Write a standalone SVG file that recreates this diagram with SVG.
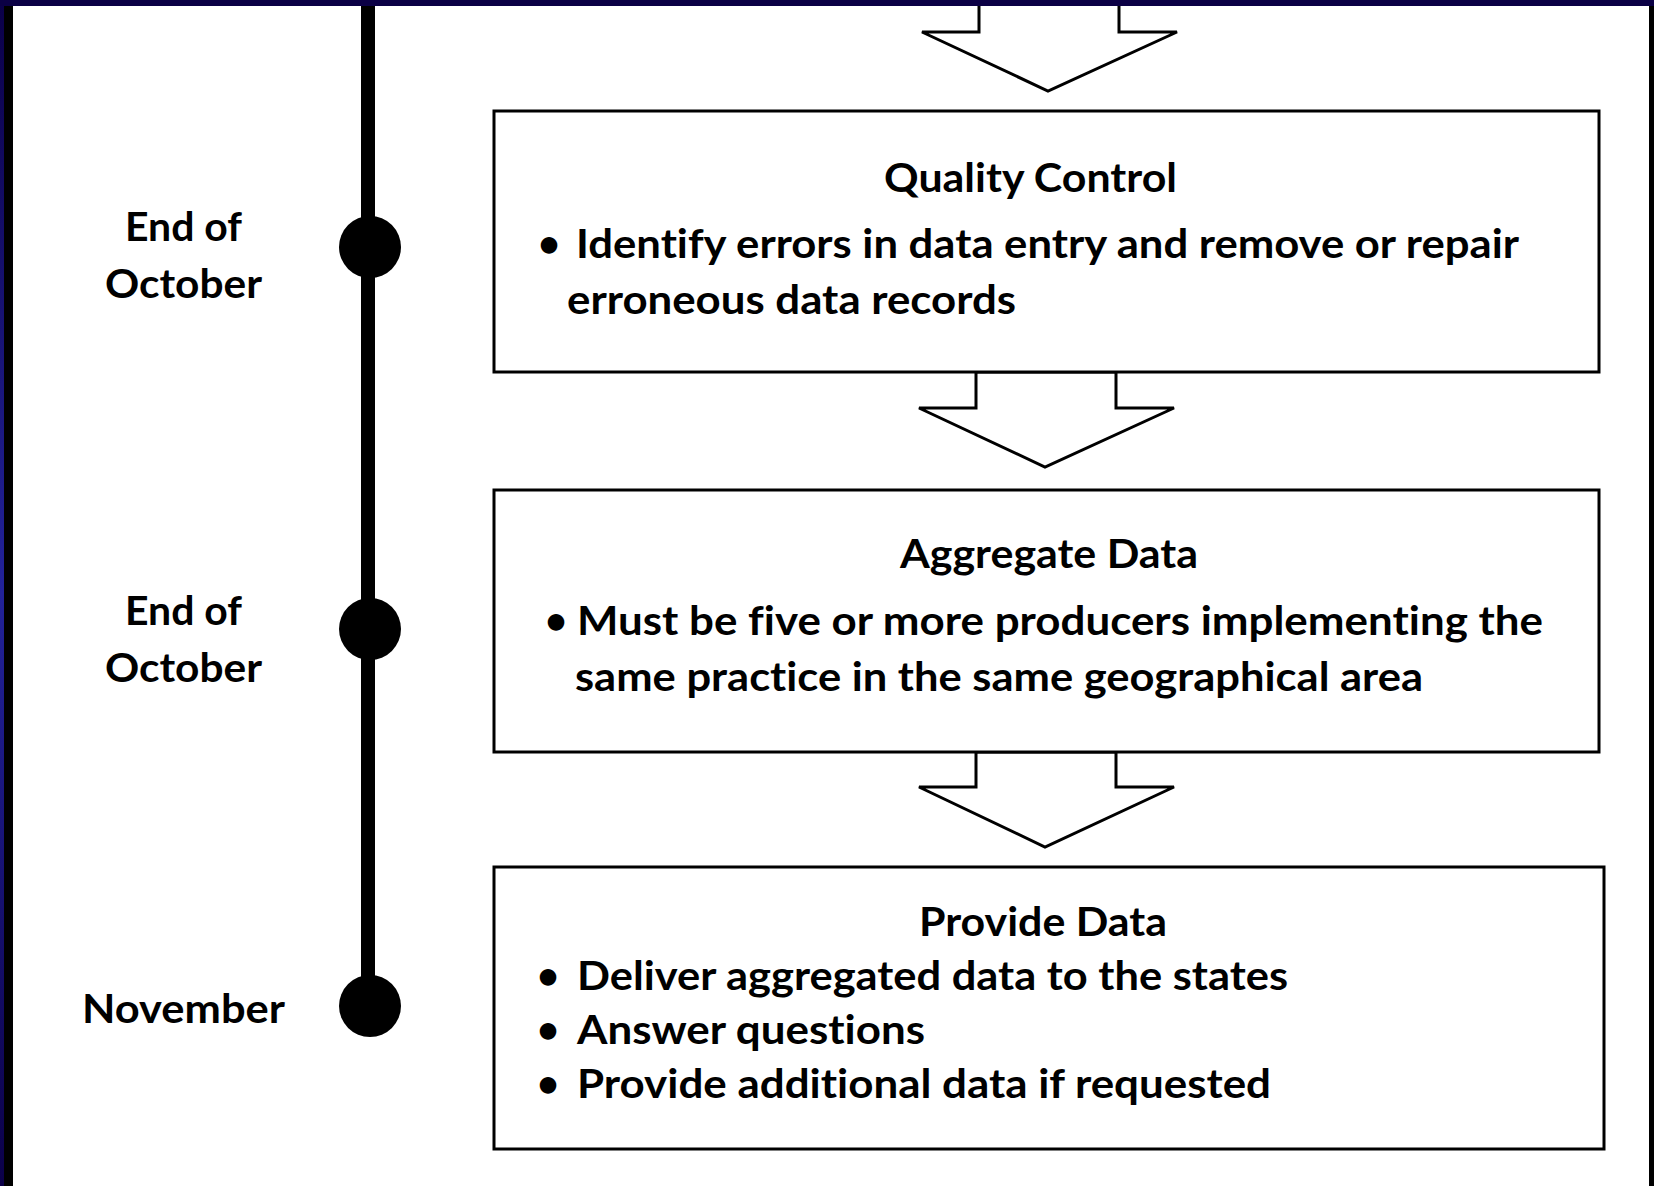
<svg xmlns="http://www.w3.org/2000/svg" width="1654" height="1186" viewBox="0 0 1654 1186">
<style>
  .box { fill: #ffffff; stroke: #000000; stroke-width: 3; }
  .arrow { fill: #ffffff; stroke: #000000; stroke-width: 3; stroke-linejoin: miter; }
  .t { font-family: Lato, "Liberation Sans", sans-serif; font-weight: bold; font-size: 40px; fill: #000000; font-variant-ligatures: none; }
  .lbl { font-family: Lato, "Liberation Sans", sans-serif; font-weight: bold; font-size: 40px; fill: #000000; text-anchor: middle; font-variant-ligatures: none; }
  .bul { font-family: Lato, "Liberation Sans", sans-serif; font-weight: bold; font-size: 38px; fill: #000000; text-anchor: middle; }
  .dot { fill: #000000; }
</style>
<defs>
  <linearGradient id="edge" x1="0" y1="0" x2="0" y2="1">
    <stop offset="0" stop-color="#0b0048"/>
    <stop offset="0.5" stop-color="#22229a"/>
    <stop offset="1" stop-color="#0b0048"/>
  </linearGradient>
</defs>
<rect x="0" y="0" width="1654" height="1186" fill="#ffffff"/>

<g id="connectors">
  <polygon class="arrow" points="979,-4 979,32 922,32 1048,91 1177,32 1119,32 1119,-4"/>
  <polygon class="arrow" points="976,372 976,408 919,408 1045,467 1174,408 1116,408 1116,372"/>
  <polygon class="arrow" points="976,752 976,787 919,787 1045,847 1174,787 1116,787 1116,752"/>
</g>

<g id="timeline">
  <rect x="361" y="0" width="14" height="1006" fill="#000000"/>
  <circle class="dot" cx="370" cy="247" r="31"/>
  <circle class="dot" cx="370" cy="629" r="31"/>
  <circle class="dot" cx="370" cy="1006" r="31"/>
</g>

<g id="label-oct1">
  <text class="lbl" x="183.5" y="241" textLength="117" lengthAdjust="spacingAndGlyphs">End of</text>
  <text class="lbl" x="183.5" y="298" textLength="157" lengthAdjust="spacingAndGlyphs">October</text>
</g>
<g id="label-oct2">
  <text class="lbl" x="183.5" y="625" textLength="117" lengthAdjust="spacingAndGlyphs">End of</text>
  <text class="lbl" x="183.5" y="682" textLength="157" lengthAdjust="spacingAndGlyphs">October</text>
</g>
<g id="label-nov">
  <text class="lbl" x="183.5" y="1023" textLength="203" lengthAdjust="spacingAndGlyphs">November</text>
</g>

<g id="quality-control">
  <rect class="box" x="494" y="111" width="1105" height="261"/>
  <text class="t" x="884" y="192" textLength="293" lengthAdjust="spacingAndGlyphs">Quality Control</text>
  <text class="bul" x="549" y="257">•</text>
  <text class="t" x="576" y="258" textLength="943" lengthAdjust="spacingAndGlyphs">Identify errors in data entry and remove or repair</text>
  <text class="t" x="567" y="314" textLength="449" lengthAdjust="spacingAndGlyphs">erroneous data records</text>
</g>

<g id="aggregate-data">
  <rect class="box" x="494" y="490" width="1105" height="262"/>
  <text class="t" x="900" y="568" textLength="298" lengthAdjust="spacingAndGlyphs">Aggregate Data</text>
  <text class="bul" x="556" y="634">•</text>
  <text class="t" x="577" y="635" textLength="966" lengthAdjust="spacingAndGlyphs">Must be five or more producers implementing the</text>
  <text class="t" x="575" y="691" textLength="848" lengthAdjust="spacingAndGlyphs">same practice in the same geographical area</text>
</g>

<g id="provide-data">
  <rect class="box" x="494" y="867" width="1110" height="282"/>
  <text class="t" x="919" y="936" textLength="248" lengthAdjust="spacingAndGlyphs">Provide Data</text>
  <text class="bul" x="548" y="989">•</text>
  <text class="t" x="577" y="990" textLength="711" lengthAdjust="spacingAndGlyphs">Deliver aggregated data to the states</text>
  <text class="bul" x="548" y="1043">•</text>
  <text class="t" x="577" y="1044" textLength="348" lengthAdjust="spacingAndGlyphs">Answer questions</text>
  <text class="bul" x="548" y="1097">•</text>
  <text class="t" x="577" y="1098" textLength="694" lengthAdjust="spacingAndGlyphs">Provide additional data if requested</text>
</g>

<g id="frame">
  <rect x="0" y="0" width="4" height="1186" fill="url(#edge)"/>
  <rect x="4" y="6" width="9" height="1180" fill="#000000"/>
  <rect x="1649" y="6" width="5" height="1180" fill="#000000"/>
  <rect x="0" y="0" width="1654" height="6" fill="#0b0045"/>
</g>
</svg>
